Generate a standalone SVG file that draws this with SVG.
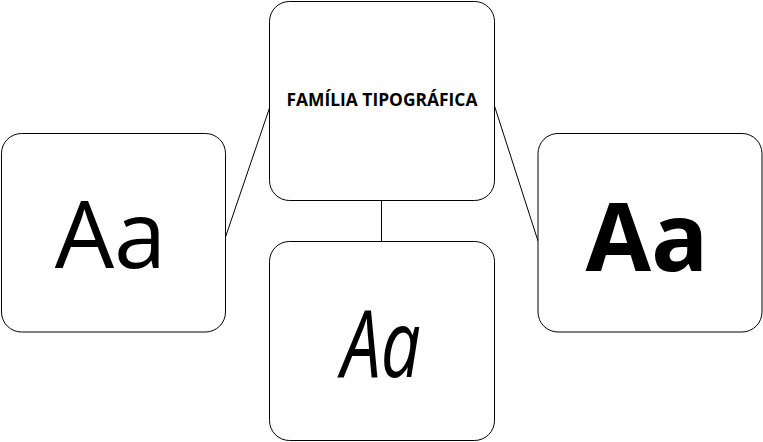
<svg xmlns="http://www.w3.org/2000/svg" width="763" height="442" viewBox="0 0 763 442">
<style>
.box{fill:#fff;stroke:#000;stroke-width:1}
.conn{stroke:#000;stroke-width:1;fill:none}
.t{font-family:"Open Sans","Noto Sans",sans-serif;text-anchor:middle;fill:#000}
</style>
<rect width="763" height="442" fill="#fff"/>
<g id="connectors">
<line class="conn" x1="269.5" y1="108" x2="225.5" y2="237"/>
<line class="conn" x1="381.5" y1="200.5" x2="381.5" y2="241.5"/>
<line class="conn" x1="494.5" y1="106" x2="538" y2="241"/>
</g>
<g id="node-top">
<rect class="box" x="269.5" y="1.5" width="225" height="199" rx="20"/>
<text class="t" x="382" y="106" font-size="17.4" font-weight="bold">FAMÍLIA TIPOGRÁFICA</text>
</g>
<g id="node-regular">
<rect class="box" x="1.5" y="133.5" width="224" height="198.5" rx="20"/>
<text class="t" x="110.5" y="268" font-size="94">Aa</text>
</g>
<g id="node-italic">
<rect class="box" x="269.5" y="241.5" width="225" height="199" rx="20"/>
<text class="t" x="0" y="377.5" font-size="93" font-style="italic" transform="translate(381,0) scale(0.76,1)">Aa</text>
</g>
<g id="node-bold">
<rect class="box" x="538" y="133.5" width="224" height="198.5" rx="20"/>
<text class="t" x="647" y="271" font-size="95" font-weight="bold">Aa</text>
</g>
</svg>
